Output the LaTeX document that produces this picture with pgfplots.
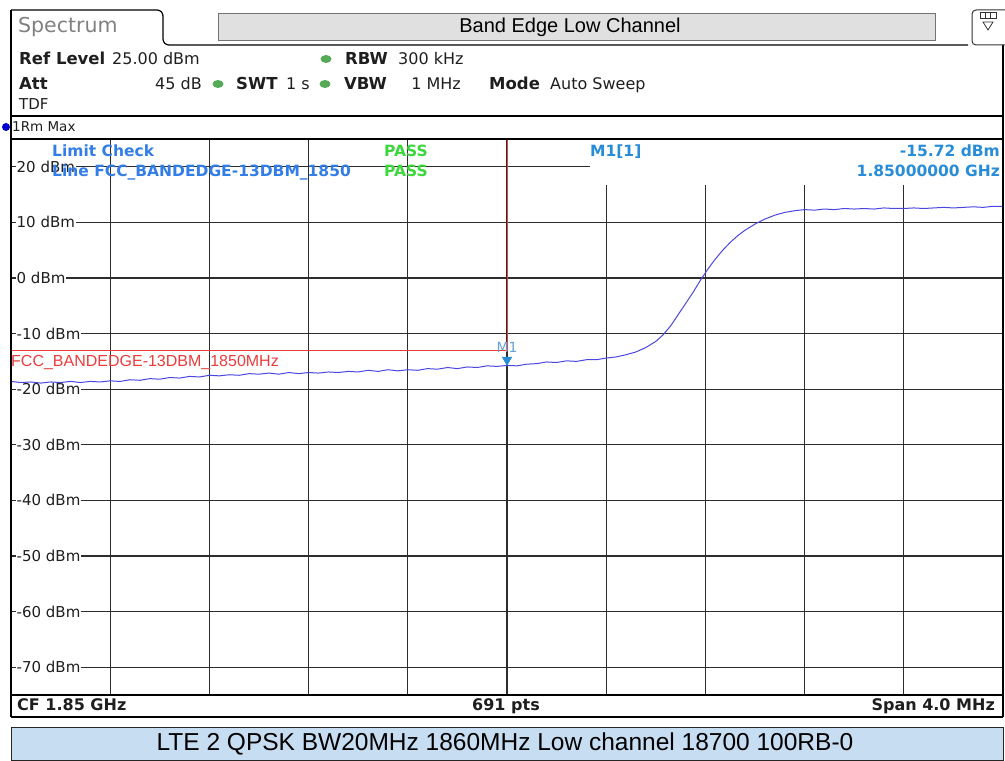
\documentclass[border=0pt]{standalone}
\usepackage{pgfplots}
\pgfplotsset{compat=1.18}
\usepackage{fontspec}
\setmainfont{DejaVu Sans}
\newfontfamily\arial{Liberation Sans}
\definecolor{tracec}{RGB}{75,70,225}
\definecolor{limc}{RGB}{235,60,60}
\definecolor{mkc}{RGB}{40,140,215}
\definecolor{mklab}{RGB}{100,160,210}
\definecolor{lcc}{RGB}{50,125,230}
\definecolor{passc}{RGB}{60,215,60}
\definecolor{grnc}{RGB}{85,170,85}
\definecolor{capbg}{RGB}{199,222,242}
\definecolor{gridc}{RGB}{45,45,45}
\definecolor{txtc}{RGB}{30,30,30}
\newcommand\fs[1]{\fontsize{#1}{#1}\selectfont}
\begin{document}
\begin{tikzpicture}[x=1pt,y=1pt]
\useasboundingbox (0,0) rectangle (1005,761);
% caption box
\fill[fill=capbg] (11,0.5) rectangle (1003,33);
\draw[draw=black!85, line width=1pt] (11,0.5) rectangle (1003,33);
\node[font=\arial\fs{24.5}, text=black] at (505,17) {LTE 2 QPSK BW20MHz 1860MHz Low channel 18700 100RB-0};
\begin{axis}[
  at={(11pt,66pt)}, anchor=south west,
  width=992pt, height=556pt, scale only axis,
  xmin=1848, xmax=1852, ymin=-75, ymax=25,
  xtick={1848.4,1848.8,1849.2,1849.6,1850,1850.4,1850.8,1851.2,1851.6},
  xticklabels={},
  ytick={-70,-60,-50,-40,-30,-20,-10,0,10,20},
  yticklabels={-70 dBm,-60 dBm,-50 dBm,-40 dBm,-30 dBm,-20 dBm,-10 dBm,0 dBm,10 dBm,20 dBm},
  yticklabel style={anchor=west, xshift=4.5pt, fill=white, inner sep=1pt, font=\fs{15}, text=txtc},
  grid=major, major grid style={draw=gridc, line width=1.1pt},
  major tick length=0pt,
  axis line style={draw=none},
  clip=false,
]
\addplot[draw=limc, line width=1pt] coordinates {(1848,-13) (1850,-13) (1850,25)};
\addplot[draw=tracec, line width=1pt] coordinates {
(1848.00,-18.6) (1848.04,-18.8) (1848.08,-18.7) (1848.12,-18.9) (1848.16,-18.7)
(1848.20,-18.8) (1848.24,-18.6) (1848.28,-18.8) (1848.32,-18.6) (1848.36,-18.7)
(1848.40,-18.5) (1848.44,-18.6) (1848.48,-18.3) (1848.52,-18.4) (1848.56,-18.1)
(1848.60,-18.2) (1848.64,-17.9) (1848.68,-18.0) (1848.72,-17.7) (1848.76,-17.8)
(1848.80,-17.5) (1848.84,-17.6) (1848.88,-17.4) (1848.92,-17.5) (1848.96,-17.2)
(1849.00,-17.3) (1849.04,-17.1) (1849.08,-17.3) (1849.12,-17.0) (1849.16,-17.2)
(1849.20,-17.0) (1849.24,-17.1) (1849.28,-16.9) (1849.32,-17.0) (1849.36,-16.8)
(1849.40,-16.9) (1849.44,-16.6) (1849.48,-16.8) (1849.52,-16.5) (1849.56,-16.7)
(1849.60,-16.5) (1849.64,-16.6) (1849.68,-16.3) (1849.72,-16.4) (1849.76,-16.1)
(1849.80,-16.3) (1849.84,-16.0) (1849.88,-16.1) (1849.92,-15.8) (1849.96,-15.9)
(1850.00,-15.72) (1850.04,-15.8) (1850.08,-15.5) (1850.12,-15.4) (1850.16,-15.1)
(1850.20,-15.2) (1850.24,-14.9) (1850.28,-15.0) (1850.32,-14.7) (1850.36,-14.7)
(1850.40,-14.4) (1850.44,-14.2) (1850.48,-13.8) (1850.52,-13.3) (1850.56,-12.5)
(1850.60,-11.4) (1850.63,-10.2) (1850.66,-8.6) (1850.69,-6.6) (1850.72,-4.6)
(1850.75,-2.6) (1850.78,-0.4) (1850.81,1.6) (1850.84,3.4) (1850.87,5.0)
(1850.90,6.4) (1850.93,7.6) (1850.96,8.6) (1851.00,9.7) (1851.04,10.6)
(1851.08,11.3) (1851.12,11.8) (1851.16,12.1) (1851.20,12.3) (1851.24,12.2)
(1851.28,12.4) (1851.32,12.3) (1851.36,12.5) (1851.40,12.4) (1851.44,12.5)
(1851.48,12.4) (1851.52,12.6) (1851.56,12.5) (1851.60,12.5) (1851.64,12.6)
(1851.68,12.5) (1851.72,12.6) (1851.76,12.7) (1851.80,12.6) (1851.84,12.7)
(1851.88,12.8) (1851.92,12.7) (1851.96,12.9) (1852.00,12.9)
};
\addplot[only marks, mark=triangle*, mark size=5.5pt, mark options={draw=mkc, fill=mkc, yshift=5.5pt, rotate=180}] coordinates {(1850,-15.72)};
\node[text=mklab, font=\fs{14}] at (axis cs:1850,-12.4) {M1};
\node[anchor=north west, inner sep=0pt, text=limc, font=\arial\fs{16}] at (axis cs:1848,-13.8) {FCC\_BANDEDGE-13DBM\_1850MHz};
\end{axis}
% marker info cover
\fill[fill=white] (590,576) rectangle (1002,621);
% frame lines
\draw[draw=black, line width=1.2pt] (11,622) -- (1003,622);
\draw[draw=black, line width=1.2pt] (11,66) -- (1003,66);
\draw[draw=black, line width=1.2pt] (11,44) -- (11,751);
\draw[draw=black, line width=1.2pt] (1003,44) -- (1003,716);
\draw[draw=black, line width=2pt] (11,44) -- (1003,44);
\draw[draw=black, line width=2pt] (11,645) -- (1003,645);
% header
\draw[draw=black, line width=1.2pt] (11,751) -- (157,751) to[out=0,in=90] (163,745) -- (163,722) to[out=-90,in=180] (169,716) -- (968,716);
\draw[draw=black!80, line width=1pt, rounded corners=4pt] (1010,751) -- (972,751) -- (972,716) -- (1010,716);
\fill[fill=black!12] (218,720) rectangle (935,747);
\draw[draw=black!55, line width=1pt] (218,720) rectangle (935,747);
\node[font=\arial\fs{20}] at (570,734) {Band Edge Low Channel};
\node[anchor=west, text=black!50, font=\fs{20.5}, inner sep=0pt] at (18,734) {Spectrum};
% icon
\draw[draw=black!80, line width=1pt] (980,748) rectangle (996,742);
\draw[draw=black!80, line width=1pt] (985.3,748) -- (985.3,742) (990.6,748) -- (990.6,742);
\draw[draw=black!80, line width=0.8pt] (983,739) -- (993,739) -- (988,731) -- cycle;
% info rows
\begin{scope}[every node/.style={anchor=base west, inner sep=0pt, text=txtc}]
\node[font=\bfseries\fs{16.5}] at (19,696) {Ref Level};
\node[font=\fs{16}] at (112,696) {25.00 dBm};
\node[font=\bfseries\fs{16.5}] at (345,696) {RBW};
\node[font=\fs{16}] at (398,696) {300 kHz};
\node[font=\bfseries\fs{16.5}] at (19,671) {Att};
\node[font=\fs{16}, anchor=base east] at (202,671) {45 dB};
\node[font=\bfseries\fs{16.5}] at (236,671) {SWT};
\node[font=\fs{16}] at (286,671) {1 s};
\node[font=\bfseries\fs{16.5}] at (344,671) {VBW};
\node[font=\fs{16}, anchor=base east] at (461,671) {1 MHz};
\node[font=\bfseries\fs{16.5}] at (489,671) {Mode};
\node[font=\fs{16}] at (550,671) {Auto Sweep};
\node[font=\fs{15}] at (19,651) {TDF};
\node[font=\fs{13.5}] at (12,629) {1Rm Max};
\end{scope}
\fill[fill=grnc] (326,702) ellipse (5.5pt and 4pt);
\fill[fill=grnc] (218,677) ellipse (5.5pt and 4pt);
\fill[fill=grnc] (325,677) ellipse (5.5pt and 4pt);
\fill[fill=blue!80!black] (6,634) circle (4pt);
% limit check + marker info
\begin{scope}[every node/.style={anchor=base west, inner sep=0pt}]
\node[font=\bfseries\fs{15.5}, text=lcc] at (52,604) {Limit Check};
\node[font=\bfseries\fs{15.5}, text=lcc] at (52,584) {Line FCC\_BANDEDGE-13DBM\_1850};
\node[font=\bfseries\fs{15.5}, text=passc] at (384,604) {PASS};
\node[font=\bfseries\fs{15.5}, text=passc] at (384,584) {PASS};
\node[font=\bfseries\fs{15.5}, text=mkc] at (590,604) {M1[1]};
\node[font=\bfseries\fs{15.5}, text=mkc, anchor=base east] at (1000,604) {-15.72 dBm};
\node[font=\bfseries\fs{15.5}, text=mkc, anchor=base east] at (1000,584) {1.85000000 GHz};
\end{scope}
% bottom bar
\begin{scope}[every node/.style={inner sep=0pt, text=txtc}]
\node[font=\bfseries\fs{16}, anchor=base west] at (17,50) {CF 1.85 GHz};
\node[font=\bfseries\fs{16}, anchor=base] at (506,50) {691 pts};
\node[font=\bfseries\fs{16}, anchor=base east] at (995,50) {Span 4.0 MHz};
\end{scope}
\end{tikzpicture}
\end{document}
